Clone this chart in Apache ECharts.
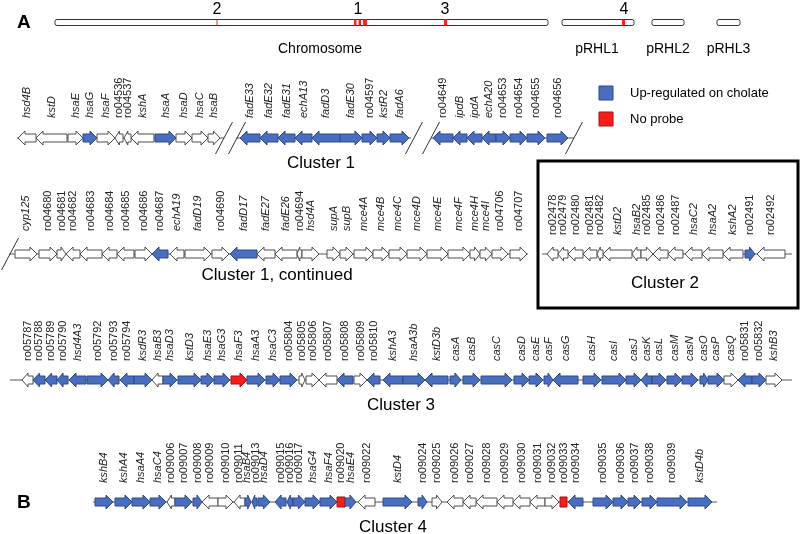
<!DOCTYPE html>
<html><head><meta charset="utf-8">
<script src="https://cdn.jsdelivr.net/npm/echarts@6/dist/echarts.min.js"></script>
<style>html,body{margin:0;padding:0;background:#fff}#c{width:800px;height:534px}</style>
</head><body><div id="c"></div>
<script>
// ---------- DATA ----------
const repliconNames = ['Chromosome', 'pRHL1', 'pRHL2', 'pRHL3'];
const repliconStart = [55, 562, 652, 717];
const repliconEnd = [548, 634, 684, 740];
const siteStart = [216.5, 354, 358.5, 363, 444, 622];
const siteEnd = [217.5, 356.5, 361, 367, 447, 625];
const siteLabels = ['2', '1', '3', '4'];
const siteLabelPos = [217, 358, 445, 624];

const statusNames = ['Not regulated', 'Up-regulated on cholate', 'No probe'];

// [name, start, end, strand, status]  status: 0 none, 1 up-regulated, 2 no probe
const cluster1 = [
  ['hsd4B',18,36,-1,0],['kstD',36,67,-1,0],['hsaE',68,83,1,0],['hsaG',83,97,1,1],['hsaF',97,115,1,0],
  ['ro04536',115,123,-1,0],['ro04537',124,131,-1,0],['kshA',131,154,-1,0],['hsaA',155,176,1,1],
  ['hsaD',176,192,1,0],['hsaC',192,208,1,0],['hsaB',208,220,1,0],
  ['fadE33',240,260,-1,1],['fadE32',260,278,-1,1],['fadE31',278,295,-1,1],['echA13',295,312,-1,1],
  ['fadD3',312,340,-1,1],['fadE30',340,362,1,1],['ro04597',362,377,1,1],['kstR2',377,390,1,1],['fadA6',390,409,1,1],
  ['ro04649',433,453,-1,1],['ipdB',453,467,-1,1],['ipdA',467,482,-1,1],['echA20',482,496,-1,1],
  ['ro04653',496,510,1,1],['ro04654',510,527,1,1],['ro04655',527,545,1,1],['ro04656',547,568,1,1]
];
const cluster1b = [
  ['cyp125',15,37,1,0],['ro04680',39,57,1,0],['ro04681',57,66,1,0],['ro04682',66,80,-1,0],
  ['ro04683',80,102,-1,0],['ro04684',102,117,-1,0],['ro04685',117,134,-1,0],['ro04686',135,152,1,0],
  ['ro04687',152,168,-1,1],['echA19',170,184,-1,0],['fadD19',185,211,1,0],['ro04690',212,229,1,0],
  ['fadD17',230,257,-1,1],['fadE27',257,275,-1,0],['fadE26',275,297,-1,0],['ro04694',297,302,-1,0],
  ['hsd4A',302,319,1,0],['supA',327,340,1,0],['supB',340,353,1,0],['mce4A',354,373,1,0],
  ['mce4B',373,389,1,0],['mce4C',389,407,1,0],['mce4D',407,427,1,0],['mce4E',427,448,1,0],
  ['mce4F',448,470,1,0],['mce4H',470,480,1,0],['mce4I',480,492,1,0],['ro04706',492,508,1,0],['ro04707',510,527,1,0]
];
const cluster2 = [
  ['ro02478',547,558,-1,0],['ro02479',558,568,-1,0],['ro02480',568,583,-1,0],['ro02481',583,597,-1,0],
  ['ro02482',597,603,-1,0],['kstD2',603,632,-1,0],['hsaB2',632,641,-1,0],['ro02485',641,653,1,0],
  ['ro02486',653,668,-1,0],['ro02487',668,683,-1,0],['hsaC2',685,702,-1,0],['hsaA2',702,723,-1,0],
  ['kshA2',723,743,-1,0],['ro02491',745,755,1,1],['ro02492',757,785,-1,0]
];
const cluster3 = [
  ['ro05787',22,33,-1,0],['ro05788',33,45,-1,1],['ro05789',45,57,-1,1],['ro05790',57,68,-1,1],
  ['hsd4A3',69,86,-1,1],['ro05792',87,108,1,1],['ro05793',108,119,-1,1],['ro05794',120,134,-1,1],
  ['ksdR3',134,152,1,1],['hsaB3',152,163,-1,0],['hsaD3',163,177,1,1],['kstD3',178,201,1,1],
  ['hsaE3',201,214,1,1],['hsaG3',214,230,1,1],['hsaF3',231,247,1,2],['hsaA3',247,265,1,1],
  ['hsaC3',266,280,1,1],['ro05804',280,297,1,1],['ro05805',299,305,1,0],['ro05806',306,319,1,0],
  ['ro05807',319,337,-1,0],['ro05808',337,353,-1,1],['ro05809',354,367,1,0],['ro05810',367,380,-1,1],
  ['kshA3',383,403,-1,1],['hsaA3b',403,425,1,1],['kstD3b',425,448,-1,1],['casA',450,461,1,1],
  ['casB',463,480,1,1],['casC',481,512,1,1],['casD',514,529,1,1],['casE',529,543,1,1],
  ['casF',544,553,1,1],['casG',553,578,-1,1],['casH',583,601,1,1],['casI',602,626,1,1],
  ['casJ',626,641,1,1],['casK',641,652,-1,1],['casL',652,666,1,1],['casM',667,682,1,1],
  ['casN',682,698,1,1],['casO',700,708,1,1],['casP',708,724,1,1],['casQ',724,738,1,0],
  ['ro05831',738,752,-1,1],['ro05832',752,766,1,1],['kshB3',766,782,1,0]
];
const cluster4 = [
  ['kshB4',95,113,1,1],['kshA4',115,132,1,1],['hsaA4',132,150,1,1],['hsaC4',150,166,1,1],
  ['ro09006',167,175,-1,0],['ro09007',175,192,1,1],['ro09008',193,202,1,1],['ro09009',202,218,-1,0],
  ['ro09010',218,233,1,0],['ro09011',234,245,-1,0],['hsaB4',245,251,1,1],['ro09013',252,257,-1,1],
  ['hsaD4',258,270,1,1],['ro09015',275,286,-1,1],['ro09016',287,293,-1,1],['ro09017',293,305,1,1],
  ['hsaG4',305,320,1,1],['hsaF4',320,337,1,1],['ro09020',337,345,0,2],['hsaE4',345,356,1,1],
  ['ro09022',358,375,-1,0],['kstD4',383,412,1,1],['ro09024',418,427,1,1],['ro09025',432,442,1,0],
  ['ro09026',447,463,-1,0],['ro09027',463,476,-1,0],['ro09028',476,497,-1,0],['ro09029',497,513,-1,0],
  ['ro09030',513,530,-1,0],['ro09031',530,545,-1,0],['ro09032',545,559,1,0],['ro09033',560,567,0,2],
  ['ro09034',568,583,-1,1],['ro09035',593,613,1,1],['ro09036',613,628,1,1],['ro09037',628,641,1,1],
  ['ro09038',642,657,1,1],['ro09039',657,687,1,1],['kstD4b',688,712,1,1]
];
// backbone segments [start, end] per track
const backbone1 = [[17,224],[236,411],[431,574]];
const backbone1b = [[9,528]];
const backbone2 = [[542,792]];
const backbone3 = [[10,792]];
const backbone4 = [[93,717]];
// break marks (genomic cut points) per track
const breaks1 = [224, 237, 414, 431, 574];
const breaks1b = [10];

const clusterTitles = ['Cluster 1', 'Cluster 1, continued', 'Cluster 2', 'Cluster 3', 'Cluster 4'];

// ---------- LAYOUT ----------
const tracks = [cluster1, cluster1b, cluster2, cluster3, cluster4];
const backbones = [backbone1, backbone1b, backbone2, backbone3, backbone4];
const breakSets = [breaks1, breaks1b, [], [], []];
const trackY = [138, 254, 254, 380, 502];
const labelBase = [118, 231, 235, 361, 483];
const titlePos = [[321,163],[277,275],[665,283],[401,405],[393,527]];

const FILL = ['#ffffff', '#4a6ebf', '#ff1a1a'];
const STROKE = ['#4d4d4d', '#2c4a8a', '#a51010'];
const FONT = '"Liberation Sans", Arial, sans-serif';

// gene data for the series
const geneData = [];
tracks.forEach((t, ti) => t.forEach(g => geneData.push([g[1], g[2], ti, g[3], g[4], g[0]])));

// label spreading so rotated labels don't collide
const labelData = [];
tracks.forEach((t, ti) => {
  const xs = t.map(g => (g[1] + g[2]) / 2);
  const gap = 8.2;
  for (let it = 0; it < 400; it++) {
    for (let i = 0; i < xs.length - 1; i++) {
      const d = xs[i + 1] - xs[i];
      if (d < gap) { const m = (gap - d) / 2; xs[i] -= m; xs[i + 1] += m; }
    }
  }
  t.forEach((g, i) => labelData.push([xs[i], ti, g[0]]));
});

const bbData = [];
backbones.forEach((b, ti) => b.forEach(s => bbData.push([s[0], s[1], ti])));
const brData = [];
breakSets.forEach((b, ti) => b.forEach(x => brData.push([x, ti])));

const repData = repliconNames.map((n, i) => [repliconStart[i], repliconEnd[i], n]);
const siteData = siteStart.map((s, i) => [s, siteEnd[i]]);

const chart = echarts.init(document.getElementById('c'), null, {renderer: 'canvas'});

function renderGene(params, api) {
  const g = geneData[params.dataIndex];
  const y = api.coord([0, trackY[g[2]]])[1];
  const x0 = api.coord([g[0], 0])[0], x1 = api.coord([g[1], 0])[0];
  const L = x1 - x0, bh = 4, hh = 7;
  const hl = Math.min(7, L * 0.55);
  let pts;
  if (g[3] === 1) pts = [[x0,y-bh],[x1-hl,y-bh],[x1-hl,y-hh],[x1,y],[x1-hl,y+hh],[x1-hl,y+bh],[x0,y+bh]];
  else if (g[3] === -1) pts = [[x1,y-bh],[x0+hl,y-bh],[x0+hl,y-hh],[x0,y],[x0+hl,y+hh],[x0+hl,y+bh],[x1,y+bh]];
  else pts = [[x0,y-bh-1],[x1,y-bh-1],[x1,y+bh+1],[x0,y+bh+1]];
  return {type: 'polygon', shape: {points: pts},
    style: {fill: FILL[g[4]], stroke: STROKE[g[4]], lineWidth: 1}};
}
function renderLabel(params, api) {
  const d = labelData[params.dataIndex];
  const p = api.coord([d[0], labelBase[d[1]]]);
  const italic = !/^ro\d/.test(d[2]);
  return {type: 'text', x: p[0], y: p[1], rotation: Math.PI / 2,
    style: {text: d[2], x: 0, y: 0, textAlign: 'left', textVerticalAlign: 'middle',
      fontSize: 11, fontFamily: FONT, fontStyle: italic ? 'italic' : 'normal', fill: '#222'}};
}
function renderBackbone(params, api) {
  const d = bbData[params.dataIndex];
  const a = api.coord([d[0], trackY[d[2]]]), b = api.coord([d[1], trackY[d[2]]]);
  return {type: 'line', shape: {x1: a[0], y1: a[1], x2: b[0], y2: b[1]},
    style: {stroke: '#555', lineWidth: 1}};
}
function renderBreak(params, api) {
  const d = brData[params.dataIndex];
  const c = api.coord([d[0], trackY[d[1]]]);
  return {type: 'line', shape: {x1: c[0] - 8.5, y1: c[1] + 16, x2: c[0] + 8.5, y2: c[1] - 16},
    style: {stroke: '#333', lineWidth: 1}};
}
function renderReplicon(params, api) {
  const d = repData[params.dataIndex];
  const a = api.coord([d[0], 22.5]), b = api.coord([d[1], 22.5]);
  return {type: 'rect', shape: {x: a[0], y: a[1] - 3, width: b[0] - a[0], height: 6, r: 2},
    style: {fill: '#fff', stroke: '#333', lineWidth: 1}};
}
function renderSite(params, api) {
  const d = siteData[params.dataIndex];
  const a = api.coord([d[0], 22.5]), b = api.coord([d[1], 22.5]);
  return {type: 'rect', shape: {x: a[0], y: a[1] - 3, width: Math.max(1, b[0] - a[0]), height: 6},
    style: {fill: '#ff2020', stroke: null}};
}

const graphics = [
  {type: 'text', left: 17, top: 13, style: {text: 'A', fontSize: 19, fontWeight: 'bold', fontFamily: FONT, fill: '#000'}},
  {type: 'text', left: 17, top: 493, style: {text: 'B', fontSize: 19, fontWeight: 'bold', fontFamily: FONT, fill: '#000'}},
  {type: 'rect', shape: {x: 538, y: 161, width: 260, height: 147}, style: {fill: null, stroke: '#000', lineWidth: 3}},
  {type: 'rect', shape: {x: 599, y: 86, width: 14, height: 14}, style: {fill: FILL[1], stroke: STROKE[1], lineWidth: 1}},
  {type: 'rect', shape: {x: 599, y: 112, width: 14, height: 14}, style: {fill: FILL[2], stroke: STROKE[2], lineWidth: 1}},
  {type: 'text', x: 630, y: 93, style: {text: statusNames[1], fontSize: 13, fontFamily: FONT, fill: '#000', textVerticalAlign: 'middle'}},
  {type: 'text', x: 630, y: 119, style: {text: statusNames[2], fontSize: 13, fontFamily: FONT, fill: '#000', textVerticalAlign: 'middle'}}
];
clusterTitles.forEach((t, i) => graphics.push({type: 'text', x: titlePos[i][0], y: titlePos[i][1],
  style: {text: t, fontSize: 17, fontFamily: FONT, fill: '#000', textAlign: 'center', textVerticalAlign: 'middle'}}));

const repLabelY = 49;
const siteLabelY = 10;

chart.setOption({
  animation: false,
  grid: {left: 0, right: 0, top: 0, bottom: 0},
  xAxis: {type: 'value', min: 0, max: 800, show: false},
  yAxis: {type: 'value', min: 0, max: 534, inverse: true, show: false},
  graphic: graphics,
  series: [
    {type: 'custom', renderItem: renderReplicon, data: repData.map(d => [d[0], d[1]]), silent: true,
     label: {show: false}},
    {type: 'custom', renderItem: renderSite, data: siteData, silent: true},
    {type: 'custom', silent: true, data: repData.map(d => [(d[0] + d[1]) / 2]),
     renderItem: (params, api) => {
       const i = params.dataIndex;
       let cx = (repliconStart[i] + repliconEnd[i]) / 2;
       if (i === 0) cx = 320; // chromosome label sits under cluster sites
       if (i === 1) cx = 597;
       const p = api.coord([cx, repLabelY]);
       return {type: 'text', x: p[0], y: p[1], style: {text: repliconNames[i], fontSize: 14, fontFamily: FONT,
         fill: '#000', textAlign: 'center', textVerticalAlign: 'middle'}};
     }},
    {type: 'custom', silent: true, data: siteLabelPos.map(x => [x]),
     renderItem: (params, api) => {
       const p = api.coord([siteLabelPos[params.dataIndex], siteLabelY]);
       return {type: 'text', x: p[0], y: p[1], style: {text: siteLabels[params.dataIndex], fontSize: 16,
         fontFamily: FONT, fill: '#000', textAlign: 'center', textVerticalAlign: 'middle'}};
     }},
    {type: 'custom', renderItem: renderBackbone, data: bbData, silent: true, z: 1},
    {type: 'custom', renderItem: renderGene, data: geneData.map(g => [g[0], g[1], g[2]]), silent: true, z: 2},
    {type: 'custom', renderItem: renderBreak, data: brData, silent: true, z: 3},
    {type: 'custom', renderItem: renderLabel, data: labelData.map(d => [d[0], d[1]]), silent: true, z: 3}
  ]
});
</script></body></html>
